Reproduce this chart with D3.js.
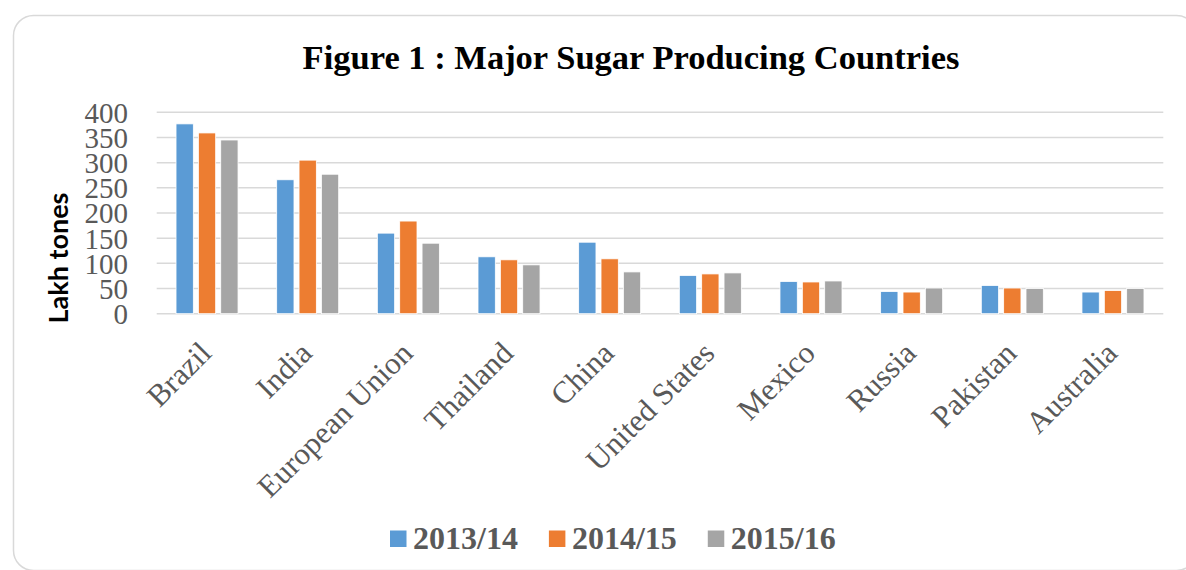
<!DOCTYPE html>
<html>
<head>
<meta charset="utf-8">
<script src="https://cdn.jsdelivr.net/npm/d3@7"></script>
<style>
  html, body { margin: 0; padding: 0; background: #fff; }
  svg { display: block; }
</style>
</head>
<body>
<svg id="chart" width="1186" height="570"></svg>
<script>
const countries = ["Brazil", "India", "European Union", "Thailand", "China", "United States", "Mexico", "Russia", "Pakistan", "Australia"];
const seriesNames = ["2013/14", "2014/15", "2015/16"];
const values2013 = [377, 266, 160, 113, 142, 76, 64, 44, 56, 43];
const values2014 = [359, 305, 184, 107, 109, 79, 63, 43, 51, 46];
const values2015 = [345, 277, 140, 97, 83, 81, 65, 51, 50, 50];
const seriesColors = ["#5B9BD5", "#ED7D31", "#A5A5A5"];
const yTicks = [0, 50, 100, 150, 200, 250, 300, 350, 400];
const titleText = "Figure 1 : Major Sugar Producing Countries";
const yTitle = "Lakh tones";

const seriesValues = [values2013, values2014, values2015];
const data = countries.map((c, i) => ({ country: c, vals: seriesNames.map((s, j) => ({ key: s, value: seriesValues[j][i], color: seriesColors[j] })) }));

const svg = d3.select("#chart");
const plotLeft = 156.7, plotRight = 1163.3, plotTop = 112.3, plotBottom = 313.7;

// border
svg.append("rect")
  .attr("x", 13.5).attr("y", 15.5).attr("width", 1183).attr("height", 555)
  .attr("rx", 20).attr("ry", 20)
  .attr("fill", "#fff").attr("stroke", "#d9d9d9").attr("stroke-width", 1.5);

const x0 = d3.scaleBand().domain(countries).range([plotLeft, plotRight]).paddingInner(0.384).paddingOuter(0.192);
const x1 = d3.scaleBand().domain(seriesNames).range([0, x0.bandwidth()]).paddingInner(0.226).paddingOuter(0);
const y = d3.scaleLinear().domain([0, 400]).range([plotBottom, plotTop]);

// gridlines
svg.append("g").selectAll("line").data(yTicks).join("line")
  .attr("x1", plotLeft).attr("x2", plotRight)
  .attr("y1", d => y(d)).attr("y2", d => y(d))
  .attr("stroke", "#d9d9d9").attr("stroke-width", 1.5);

// y axis
const yAxis = svg.append("g").attr("transform", "translate(128,0)")
  .call(d3.axisLeft(y).tickValues(yTicks).tickSize(0).tickPadding(0));
yAxis.select(".domain").remove();
yAxis.selectAll("text")
  .attr("font-family", "'Liberation Serif', 'Times New Roman', serif")
  .attr("font-size", 29).attr("fill", "#595959").attr("dy", "0.34em");

// bars
const groups = svg.append("g").selectAll("g").data(data).join("g")
  .attr("transform", d => `translate(${x0(d.country)},0)`);
groups.selectAll("rect").data(d => d.vals).join("rect")
  .attr("x", d => x1(d.key))
  .attr("width", x1.bandwidth())
  .attr("y", d => y(d.value))
  .attr("height", d => y(0) - y(d.value))
  .attr("fill", d => d.color)
  .attr("stroke", "#fff").attr("stroke-width", 0.8);

// x labels
svg.append("g").selectAll("text").data(countries).join("text")
  .attr("transform", d => `translate(${x0(d) + x0.bandwidth() / 2 + 6},355) rotate(-45)`)
  .attr("text-anchor", "end")
  .attr("font-family", "'Liberation Serif', 'Times New Roman', serif")
  .attr("font-size", 31).attr("fill", "#595959")
  .text(d => d);

// title
svg.append("text")
  .attr("x", 631).attr("y", 69).attr("text-anchor", "middle")
  .attr("font-family", "'Liberation Serif', 'Times New Roman', serif")
  .attr("font-weight", "bold").attr("font-size", 34.5).attr("fill", "#000")
  .text(titleText);

// y title
svg.append("text")
  .attr("transform", "translate(68,258) rotate(-90)")
  .attr("text-anchor", "middle")
  .attr("font-family", "Lato, 'Open Sans', sans-serif")
  .attr("font-weight", "bold").attr("font-size", 27).attr("fill", "#000")
  .text(yTitle);

// legend
const legend = svg.append("g");
const items = legend.selectAll("g").data(seriesNames).join("g");
items.append("rect").attr("width", 16.5).attr("height", 16.5).attr("y", -18.5)
  .attr("fill", (d, i) => seriesColors[i]);
items.append("text").attr("x", 23).attr("y", 0)
  .attr("font-family", "'Liberation Serif', 'Times New Roman', serif")
  .attr("font-weight", "bold").attr("font-size", 32).attr("fill", "#595959")
  .text(d => d);
let offs = [], cur = 0;
items.each(function () {
  offs.push(cur);
  cur += this.getBBox().width + 31;
});
const startX = 390;
items.attr("transform", (d, i) => `translate(${startX + offs[i]},549)`);
</script>
</body>
</html>
